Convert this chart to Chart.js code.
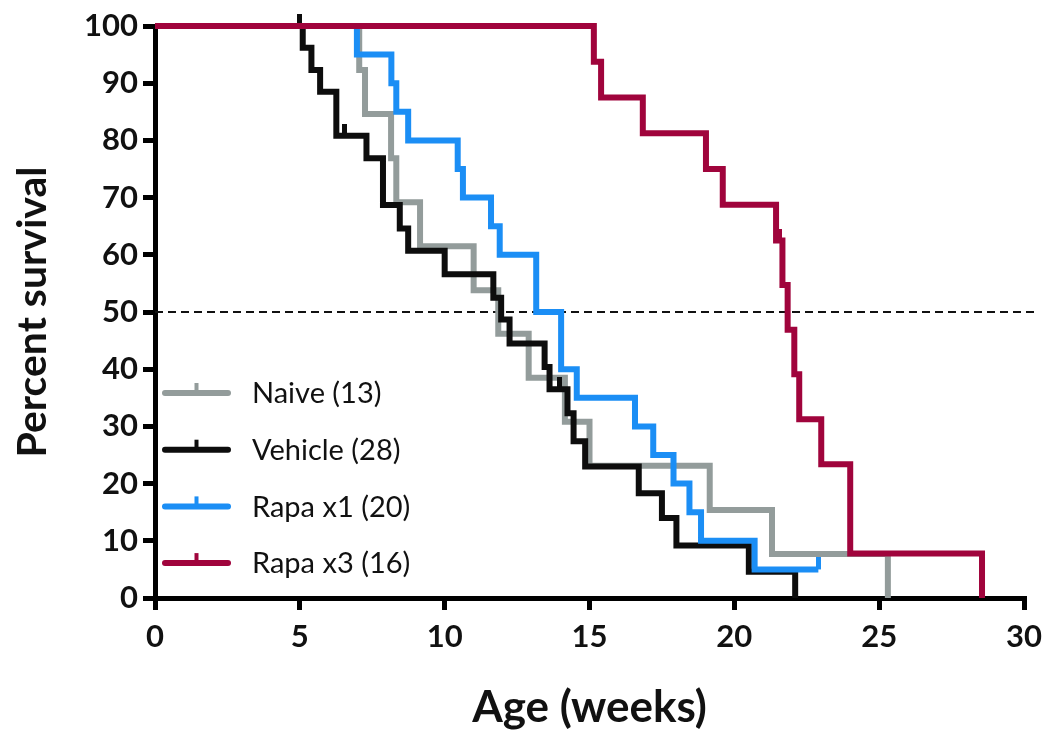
<!DOCTYPE html>
<html lang="en">
<head>
    <meta charset="UTF-8">
    <title>Percent survival</title>
    <style>
        html, body { margin: 0; padding: 0; background: #fff; }
        .chart-container { width: 1050px; height: 744px; position: relative; }
    </style>
</head>
<body>

<div class="chart-container">
    <canvas id="chartCanvas"></canvas>
</div>

<script src="https://cdn.jsdelivr.net/npm/chart.js"></script>
<script>
    const seriesNames = ['Naive (13)', 'Vehicle (28)', 'Rapa x1 (20)', 'Rapa x3 (16)'];
    const seriesColors = ['#939c9b', '#0d0d0d', '#1b8ef5', '#a0043c'];

    // Kaplan-Meier steps: week of the drop and survival after it
    const naiveWeeks = [0, 7.05, 7.25, 8.15, 8.33, 9.15, 11.0, 11.85, 12.9, 14.15, 15.0, 19.15, 21.3, 25.3];
    const naiveSurvival = [100, 92.3, 84.6, 76.9, 69.2, 61.5, 53.8, 46.2, 38.5, 30.8, 23.1, 15.4, 7.7, 0];

    const vehicleWeeks = [0, 5.1, 5.4, 5.7, 6.26, 7.3, 7.87, 8.45, 8.74, 10.0, 11.68, 11.95, 12.24, 13.45, 13.62, 14.24, 14.45, 14.85, 16.7, 17.5, 18.0, 20.5, 22.1];
    const vehicleSurvival = [100, 96.2, 92.3, 88.5, 80.8, 76.9, 68.7, 64.6, 60.7, 56.6, 52.5, 48.7, 44.5, 40.4, 36.5, 32.3, 27.4, 23.0, 18.3, 14.0, 9.2, 4.6, 0];

    const rapa1Weeks = [0, 6.97, 8.16, 8.33, 8.74, 10.45, 10.63, 11.6, 11.9, 13.16, 14.02, 14.56, 16.57, 17.2, 17.9, 18.45, 18.85, 20.7, 22.9];
    const rapa1Survival = [100, 95, 90, 85, 80, 75, 70, 65, 60, 50, 40, 35, 30, 25, 20, 15, 10, 5, 5];

    const rapa3Weeks = [0, 15.15, 15.4, 16.84, 19.02, 19.6, 21.44, 21.66, 21.84, 22.07, 22.24, 23.0, 24.0, 28.55];
    const rapa3Survival = [100, 93.75, 87.5, 81.25, 75, 68.75, 62.5, 54.7, 46.9, 39.1, 31.25, 23.4, 7.8, 0];

    // censored subjects (tick marks)
    const vehicleCensorWeeks = [5.0, 6.55, 13.97];
    const vehicleCensorSurvival = [100, 80.8, 36.5];
    const rapa1CensorWeeks = [22.9];
    const rapa1CensorSurvival = [5];
    const rapa3CensorWeeks = [21.55];
    const rapa3CensorSurvival = [62.5];

    const medianWeeks = [0, 30.5];
    const medianSurvival = [50, 50];

    const xTicks = [0, 5, 10, 15, 20, 25, 30];
    const yTicks = [0, 10, 20, 30, 40, 50, 60, 70, 80, 90, 100];

    const toPoints = (xs, ys) => xs.map((x, i) => ({x: x, y: ys[i]}));

    // upward tick used for censored points
    function makeTick(color) {
        const c = document.createElement('canvas');
        c.width = 5;
        c.height = 24;
        const g = c.getContext('2d');
        g.fillStyle = color;
        g.fillRect(0, 0, 5, 12);
        return c;
    }

    function curve(weeks, survival, idx, order) {
        return {
            label: seriesNames[idx],
            data: toPoints(weeks, survival),
            borderColor: seriesColors[idx],
            borderWidth: 6,
            stepped: 'before',
            pointRadius: 0,
            fill: false,
            clip: false,
            order: order,
            borderCapStyle: 'butt'
        };
    }

    function censor(weeks, survival, idx, order) {
        return {
            type: 'scatter',
            data: toPoints(weeks, survival),
            pointStyle: makeTick(seriesColors[idx]),
            pointRadius: 5,
            showLine: false,
            clip: false,
            order: order
        };
    }

    const legendPlugin = {
        id: 'sideLegend',
        afterDatasetsDraw(chart) {
            const {ctx, chartArea} = chart;
            const x0 = chartArea.left + 10;
            const x1 = x0 + 63;
            const mid = (x0 + x1) / 2;
            ctx.save();
            seriesNames.forEach((name, i) => {
                const y = chartArea.top + 367 + i * 56.7;
                ctx.strokeStyle = seriesColors[i];
                ctx.lineWidth = 6;
                ctx.lineCap = 'round';
                ctx.beginPath();
                ctx.moveTo(x0, y);
                ctx.lineTo(x1, y);
                ctx.stroke();
                ctx.lineCap = 'butt';
                ctx.lineWidth = 4;
                ctx.beginPath();
                ctx.moveTo(mid, y);
                ctx.lineTo(mid, y - 10);
                ctx.stroke();
                ctx.fillStyle = '#111';
                ctx.font = '29px Lato';
                ctx.textBaseline = 'middle';
                ctx.fillText(name, chartArea.left + 97, y + 1);
            });
            ctx.restore();
        }
    };

    const ctx = document.getElementById('chartCanvas').getContext('2d');
    new Chart(ctx, {
        type: 'line',
        data: {
            datasets: [
                curve(rapa3Weeks, rapa3Survival, 3, 0),
                censor(rapa3CensorWeeks, rapa3CensorSurvival, 3, 0),
                curve(rapa1Weeks, rapa1Survival, 2, 1),
                censor(rapa1CensorWeeks, rapa1CensorSurvival, 2, 1),
                curve(vehicleWeeks, vehicleSurvival, 1, 2),
                censor(vehicleCensorWeeks, vehicleCensorSurvival, 1, 2),
                curve(naiveWeeks, naiveSurvival, 0, 3),
                {
                    data: toPoints(medianWeeks, medianSurvival),
                    borderColor: '#111',
                    borderWidth: 2,
                    borderDash: [8, 5],
                    pointRadius: 0,
                    clip: false,
                    order: 4
                }
            ]
        },
        options: {
            responsive: true,
            maintainAspectRatio: false,
            animation: false,
            layout: { padding: { left: 0, top: 26, right: 25, bottom: 0 } },
            plugins: { legend: { display: false }, tooltip: { enabled: false } },
            scales: {
                x: {
                    type: 'linear',
                    min: 0,
                    max: 30,
                    afterBuildTicks: s => { s.ticks = xTicks.map(v => ({value: v})); },
                    afterFit: s => { s.height = 146; },
                    border: { color: '#000', width: 5 },
                    grid: { drawOnChartArea: false, color: '#000', lineWidth: 5, tickLength: 12 },
                    ticks: { color: '#111', padding: 8, font: { family: 'Lato', weight: 'bold', size: 31 } },
                    title: {
                        display: true,
                        text: 'Age (weeks)',
                        color: '#111',
                        padding: { top: 0, bottom: 10 },
                        font: { family: 'Lato', weight: 'bold', size: 44 }
                    }
                },
                y: {
                    min: 0,
                    max: 100,
                    afterBuildTicks: s => { s.ticks = yTicks.map(v => ({value: v})); },
                    afterFit: s => { s.width = 155; },
                    border: { color: '#000', width: 5 },
                    grid: { drawOnChartArea: false, color: '#000', lineWidth: 5, tickLength: 12 },
                    ticks: { color: '#111', padding: 5, font: { family: 'Lato', weight: 'bold', size: 31 } },
                    title: {
                        display: true,
                        text: 'Percent survival',
                        color: '#111',
                        padding: { top: 8, bottom: 0 },
                        font: { family: 'Lato', weight: 'bold', size: 41 }
                    }
                }
            }
        },
        plugins: [legendPlugin]
    });
</script>

</body>
</html>
